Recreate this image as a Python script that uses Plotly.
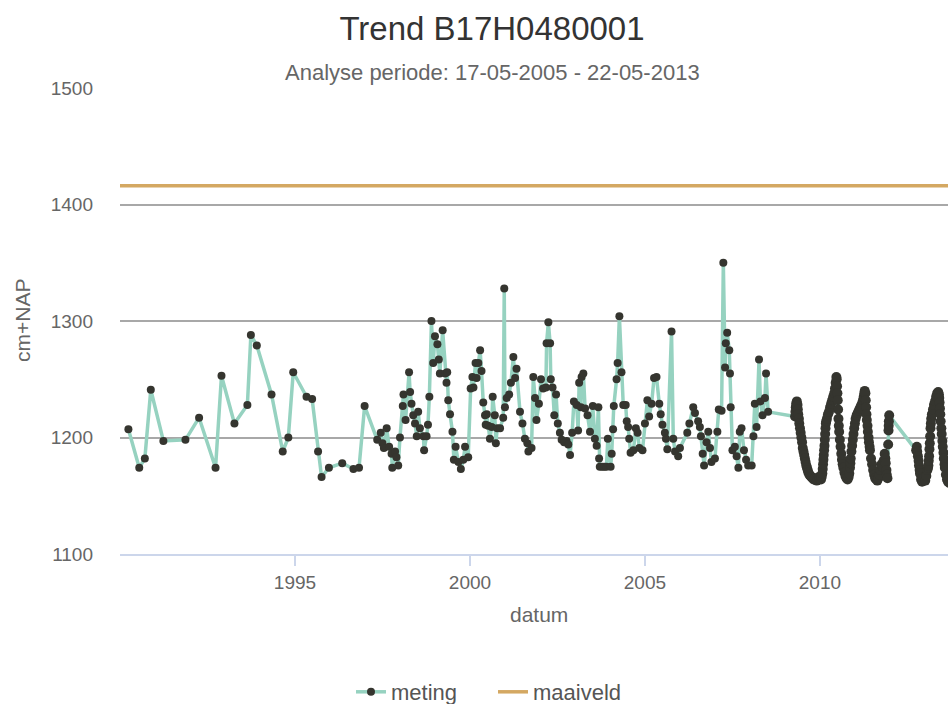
import plotly.graph_objects as go

# ---- data (decimal year, cm+NAP) ----
years_early = [1990.24, 1990.55, 1990.71, 1990.88, 1991.24, 1991.87, 1992.26, 1992.73, 1992.90, 1993.27,
               1993.64, 1993.74, 1993.91, 1994.33, 1994.65, 1994.81, 1994.95, 1995.33, 1995.49, 1995.66,
               1995.76, 1995.97, 1996.35, 1996.67, 1996.83, 1996.99]
vals_early = [1207, 1174, 1182, 1241, 1197, 1198, 1217, 1174, 1253, 1212,
              1228, 1288, 1279, 1237, 1188, 1200, 1256, 1235, 1233, 1188,
              1166, 1174, 1178, 1173, 1174, 1227]

years_9700 = [1997.35, 1997.45, 1997.50, 1997.54, 1997.62, 1997.69, 1997.76, 1997.78, 1997.86, 1997.90,
              1997.95, 1998.00, 1998.08, 1998.10, 1998.16, 1998.26, 1998.29, 1998.33, 1998.38, 1998.43,
              1998.48, 1998.52, 1998.57, 1998.67, 1998.69, 1998.76, 1998.80, 1998.84, 1998.90, 1998.95,
              1999.00, 1999.07, 1999.11, 1999.14, 1999.22, 1999.29, 1999.33, 1999.35, 1999.38, 1999.43,
              1999.50, 1999.54, 1999.59, 1999.67, 1999.74, 1999.81, 1999.86, 1999.95, 2000.02, 2000.07,
              2000.10, 2000.16, 2000.19, 2000.24, 2000.29, 2000.33, 2000.38, 2000.43, 2000.45, 2000.48,
              2000.52, 2000.57, 2000.62, 2000.65, 2000.71, 2000.74, 2000.78, 2000.86, 2000.95]
vals_9700 = [1198, 1204, 1195, 1191, 1208, 1192, 1186, 1174, 1188, 1183,
             1176, 1200, 1227, 1237, 1215, 1256, 1239, 1229, 1219, 1212,
             1201, 1222, 1208, 1201, 1189, 1201, 1211, 1235, 1300, 1264,
             1287, 1280, 1267, 1255, 1292, 1255, 1247, 1256, 1232, 1220,
             1205, 1181, 1192, 1179, 1173, 1181, 1192, 1183, 1242, 1252,
             1243, 1264, 1251, 1264, 1275, 1257, 1230, 1219, 1211, 1220,
             1210, 1199, 1209, 1235, 1219, 1195, 1208, 1208, 1217]

years_0105 = [2000.98, 2001.00, 2001.05, 2001.12, 2001.17, 2001.24, 2001.29, 2001.33, 2001.43, 2001.50,
              2001.57, 2001.64, 2001.67, 2001.76, 2001.81, 2001.86, 2001.90, 2001.97, 2002.03, 2002.09,
              2002.17, 2002.19, 2002.24, 2002.29, 2002.31, 2002.36, 2002.41, 2002.46, 2002.51, 2002.57,
              2002.62, 2002.69, 2002.76, 2002.81, 2002.86, 2002.92, 2002.97, 2003.05, 2003.09, 2003.12,
              2003.17, 2003.19, 2003.24, 2003.29, 2003.36, 2003.43, 2003.51, 2003.57, 2003.62, 2003.67,
              2003.69, 2003.71, 2003.78, 2003.84, 2003.90, 2003.94, 2004.02, 2004.05, 2004.09, 2004.11,
              2004.19, 2004.22, 2004.27, 2004.33, 2004.38, 2004.45, 2004.48, 2004.52, 2004.55, 2004.59,
              2004.67, 2004.74, 2004.79, 2004.84, 2004.93, 2005.00, 2005.07, 2005.12, 2005.19, 2005.26,
              2005.33]
vals_0105 = [1328, 1226, 1234, 1237, 1247, 1269, 1251, 1259, 1222, 1212,
             1199, 1195, 1188, 1191, 1252, 1234, 1215, 1229, 1250, 1242,
             1243, 1281, 1299, 1281, 1250, 1243, 1219, 1237, 1212, 1204,
             1198, 1196, 1197, 1194, 1185, 1204, 1231, 1228, 1206, 1247,
             1226, 1252, 1255, 1225, 1219, 1205, 1227, 1199, 1193, 1226,
             1182, 1175, 1175, 1175, 1175, 1199, 1175, 1186, 1207, 1227,
             1250, 1264, 1304, 1256, 1228, 1228, 1214, 1209, 1199, 1187,
             1189, 1208, 1204, 1191, 1189, 1212, 1232, 1218, 1229, 1251,
             1252]

years_0509 = [2005.41, 2005.45, 2005.50, 2005.57, 2005.60, 2005.64, 2005.76, 2005.81, 2005.86, 2005.95,
              2006.00, 2006.21, 2006.27, 2006.38, 2006.43, 2006.52, 2006.57, 2006.60, 2006.65, 2006.69,
              2006.76, 2006.81, 2006.86, 2006.90, 2007.00, 2007.07, 2007.11, 2007.19, 2007.24, 2007.29,
              2007.31, 2007.35, 2007.41, 2007.43, 2007.45, 2007.50, 2007.57, 2007.62, 2007.67, 2007.71,
              2007.76, 2007.83, 2007.89, 2007.95, 2008.05, 2008.10, 2008.14, 2008.19, 2008.26, 2008.30,
              2008.36, 2008.43, 2008.46, 2008.52]
vals_0509 = [1229, 1220, 1211, 1204, 1199, 1190, 1291, 1199, 1188, 1184,
             1191, 1204, 1212, 1226, 1221, 1214, 1209, 1201, 1186, 1176,
             1196, 1205, 1191, 1179, 1182, 1205, 1224, 1223, 1350, 1260,
             1281, 1290, 1275, 1255, 1226, 1189, 1192, 1184, 1174, 1205,
             1208, 1189, 1181, 1176, 1176, 1201, 1229, 1209, 1267, 1231,
             1219, 1234, 1255, 1222]

# dense logger series 2009-2013
years_logger = [
    2009.29, 2009.30, 2009.31, 2009.32, 2009.34, 2009.36, 2009.37, 2009.38, 2009.40, 2009.41,
    2009.43, 2009.45, 2009.47, 2009.49, 2009.51, 2009.53, 2009.55, 2009.57, 2009.59, 2009.61,
    2009.63, 2009.65, 2009.67, 2009.70, 2009.73, 2009.76, 2009.79, 2009.82, 2009.85, 2009.88,
    2009.91, 2009.94, 2009.97, 2010.00, 2010.03, 2010.05, 2010.07, 2010.08, 2010.09, 2010.10,
    2010.11, 2010.12, 2010.13, 2010.14, 2010.15, 2010.16, 2010.17, 2010.18, 2010.20, 2010.23,
    2010.26, 2010.29, 2010.32, 2010.35, 2010.38, 2010.41, 2010.43, 2010.45, 2010.47, 2010.48,
    2010.49, 2010.50, 2010.51, 2010.52, 2010.53, 2010.54, 2010.55, 2010.57, 2010.59, 2010.61,
    2010.63, 2010.65, 2010.67, 2010.70, 2010.73, 2010.76, 2010.79, 2010.82, 2010.84, 2010.86,
    2010.87, 2010.88, 2010.90, 2010.92, 2010.94, 2010.96, 2010.98, 2011.00, 2011.02, 2011.05,
    2011.08, 2011.11, 2011.14, 2011.17, 2011.20, 2011.23, 2011.25, 2011.27, 2011.28, 2011.30,
    2011.31, 2011.32, 2011.33, 2011.34, 2011.36, 2011.37, 2011.39, 2011.40, 2011.42, 2011.43,
    2011.46, 2011.49, 2011.52, 2011.55, 2011.58, 2011.61, 2011.64, 2011.67, 2011.70, 2011.73,
    2011.76, 2011.79, 2011.82, 2011.85, 2011.87, 2011.88, 2011.90, 2011.91, 2011.93, 2011.95,
    2011.96, 2011.965, 2011.97, 2011.98,
    2012.75, 2012.77, 2012.78, 2012.80, 2012.82, 2012.83, 2012.85, 2012.86, 2012.89, 2012.92,
    2012.95, 2012.98, 2013.01, 2013.04, 2013.07, 2013.09, 2013.10, 2013.11, 2013.12, 2013.13,
    2013.14, 2013.15, 2013.16, 2013.17, 2013.18, 2013.20, 2013.23, 2013.26, 2013.29, 2013.32,
    2013.35, 2013.38, 2013.40, 2013.41, 2013.42, 2013.43, 2013.44, 2013.45, 2013.47, 2013.48,
    2013.50, 2013.51, 2013.53, 2013.54, 2013.56, 2013.57, 2013.60, 2013.63, 2013.66, 2013.70]
vals_logger = [
    1218, 1222, 1226, 1229, 1231, 1228, 1224, 1220, 1216, 1212,
    1208, 1204, 1200, 1196, 1191, 1188, 1185, 1182, 1179, 1176,
    1174, 1172, 1170, 1168, 1167, 1166, 1165, 1164, 1165, 1164,
    1163, 1164, 1166, 1165, 1164, 1166, 1169, 1173, 1177, 1181,
    1185, 1189, 1193, 1198, 1203, 1208, 1212, 1214, 1216, 1220,
    1222, 1226, 1229, 1232, 1235, 1238, 1242, 1247, 1252, 1250,
    1244, 1238, 1232, 1224, 1216, 1210, 1205, 1198, 1192, 1186,
    1181, 1177, 1174, 1170, 1167, 1165, 1164, 1166, 1169, 1174,
    1178, 1182, 1188, 1193, 1198, 1203, 1208, 1212, 1216, 1219,
    1221, 1223, 1225, 1227, 1229, 1232, 1235, 1238, 1240, 1238,
    1232, 1226, 1220, 1215, 1210, 1205, 1200, 1196, 1192, 1189,
    1182, 1177, 1172, 1168, 1165, 1164, 1163, 1165, 1168, 1172,
    1177, 1175, 1180, 1186, 1182, 1178, 1172, 1168, 1165, 1194,
    1206, 1210, 1214, 1219,
    1189, 1192, 1188, 1184, 1180, 1176, 1172, 1169, 1164, 1162,
    1163, 1166, 1163, 1167, 1172, 1174, 1176, 1180, 1184, 1190,
    1195, 1201, 1208, 1212, 1216, 1220, 1224, 1228, 1231, 1235,
    1238, 1239, 1237, 1234, 1230, 1225, 1220, 1214, 1208, 1203,
    1197, 1192, 1187, 1182, 1177, 1174, 1168, 1164, 1162, 1161]

maaiveld_level = 1416
x_range = [1990.0, 2013.66]
y_range = [1100, 1500]
y_ticks = [1100, 1200, 1300, 1400, 1500]
x_ticks = [1995, 2000, 2005, 2010]

manual_x = years_early + years_9700 + years_0105 + years_0509
manual_y = vals_early + vals_9700 + vals_0105 + vals_0509

FONT = "Liberation Sans, Arial, sans-serif"
W, H = 948, 704
L, R, T, B = 120, 0, 88, 150
PW, PH = W - L - R, H - T - B
TEAL = "#96d2c0"
DARK = "#35352f"

fig = go.Figure()
fig.add_trace(go.Scatter(
    x=manual_x + years_logger[:1], y=manual_y + vals_logger[:1], mode="lines+markers", name="meting",
    line=dict(color=TEAL, width=3.5),
    marker=dict(color=DARK, size=8),
    legendrank=1,
))
fig.add_trace(go.Scatter(
    x=years_logger, y=vals_logger, mode="lines+markers", name="meting",
    line=dict(color=TEAL, width=3.5),
    marker=dict(color=DARK, size=10),
    showlegend=False,
))
fig.add_trace(go.Scatter(
    x=x_range, y=[maaiveld_level, maaiveld_level], mode="lines", name="maaiveld",
    line=dict(color="#d4a862", width=3.5),
    legendrank=2,
))

fig.update_layout(
    width=W, height=H,
    margin=dict(l=L, r=R, t=T, b=B, autoexpand=False),
    paper_bgcolor="white", plot_bgcolor="white",
    font=dict(family=FONT, color="#666666"),
    title=dict(text="Trend B17H0480001", x=492 / W, xref="container", xanchor="center",
               y=1 - 28 / H, yref="container", yanchor="middle",
               font=dict(size=33, color="#333333", family=FONT)),
    showlegend=True,
    legend=dict(orientation="h", x=(351 - L) / PW, xanchor="left",
                y=(554 - 692) / PH, yanchor="middle",
                font=dict(size=22, color="#555555", family=FONT),
                entrywidth=97, entrywidthmode="pixels",
                itemwidth=30, bgcolor="rgba(0,0,0,0)"),
    xaxis=dict(range=x_range, tickvals=x_ticks, ticktext=[str(v) for v in x_ticks],
               showgrid=False, zeroline=False,
               showline=True, linecolor="#ccd6eb", linewidth=2,
               ticks="outside", ticklen=10, tickcolor="#ccd6eb", tickwidth=1.5,
               tickfont=dict(size=19, color="#666666", family=FONT)),
    yaxis=dict(range=y_range, tickvals=y_ticks, showgrid=True, gridcolor="#a8a8a8", gridwidth=1.5,
               zeroline=False, showline=False, ticks="", ticklabelstandoff=26,
               tickfont=dict(size=19, color="#666666", family=FONT)),
    annotations=[
        dict(text="Analyse periode: 17-05-2005 - 22-05-2013", x=(492 - L) / PW, xref="paper",
             y=1 + (88 - 73) / PH, yref="paper", xanchor="center", yanchor="middle",
             showarrow=False, font=dict(size=22, color="#666666", family=FONT)),
        dict(text="datum", x=(539 - L) / PW, xref="paper", y=(554 - 614) / PH, yref="paper",
             xanchor="center", yanchor="middle", showarrow=False,
             font=dict(size=21, color="#666666", family=FONT)),
        dict(text="cm+NAP", x=(22 - L) / PW, xref="paper", y=(554 - 321) / PH, yref="paper",
             xanchor="center", yanchor="middle", textangle=-90, showarrow=False,
             font=dict(size=21, color="#666666", family=FONT)),
    ],
)

fig.write_html("out.html")
